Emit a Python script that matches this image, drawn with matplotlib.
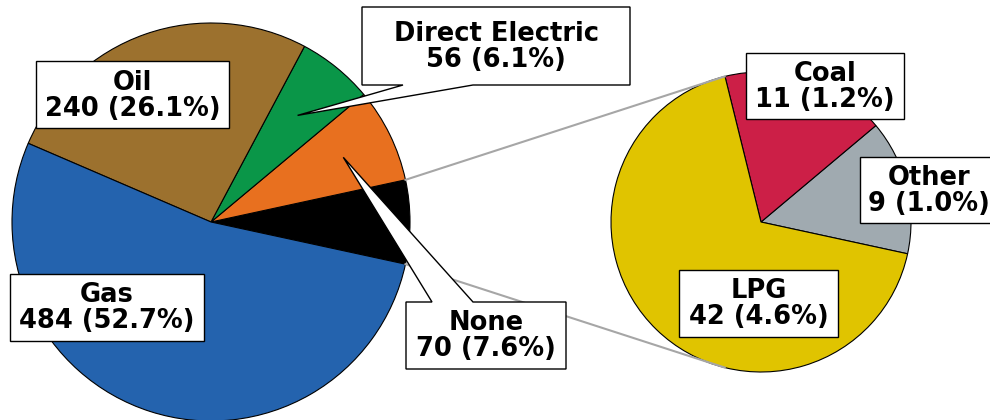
import numpy as np
import matplotlib
matplotlib.use('Agg')
import matplotlib.pyplot as plt
from matplotlib.patches import Polygon

# main pie: grouped "other" slice first, then counter-clockwise
main_labels = ['None', 'Direct Electric', 'Oil', 'Gas']
main_values = [70, 56, 240, 484]
main_pcts = ['7.6%', '6.1%', '26.1%', '52.7%']
main_colors = ['#E8701F', '#0A9648', '#9C712E', '#2463AE']

# secondary pie (breakdown of the black slice)
sub_labels = ['Other', 'Coal', 'LPG']
sub_values = [9, 11, 42]
sub_pcts = ['1.0%', '1.2%', '4.6%']
sub_colors = ['#A0AAB0', '#CC1F47', '#E0C400']

W, H = 990, 420
C1, R1 = (211, 198), 199
C2, R2 = (761, 198), 150
LINK_ANG = 104  # where connector meets the small pie (deg from +x, mirrored)


def img(x, y):
    # image pixel coords (y down) -> axes data coords (y up)
    return (x, H - y)


def main():
    fig = plt.figure(figsize=(W / 100, H / 100), dpi=100)
    ax = fig.add_axes([0, 0, 1, 1])

    other_total = sum(sub_values)
    total = other_total + sum(main_values)
    start = -180.0 * other_total / total

    wp = dict(edgecolor='black', linewidth=0.8)
    wedges1, _ = ax.pie([other_total] + main_values, colors=['black'] + main_colors,
                        startangle=start, center=C1, radius=R1, wedgeprops=wp)
    wedges2, _ = ax.pie(sub_values, colors=sub_colors, startangle=start,
                        center=C2, radius=R2, wedgeprops=wp)
    for w in list(wedges1) + list(wedges2):
        w.set_zorder(1)

    # connector lines between the black slice and the small pie
    half = np.radians(180.0 * other_total / total)
    la = np.radians(LINK_ANG)
    for s in (1, -1):
        x0 = C1[0] + R1 * np.cos(half)
        y0 = C1[1] + s * R1 * np.sin(half)
        x1 = C2[0] + R2 * np.cos(la)
        y1 = C2[1] + s * R2 * np.sin(la)
        ax.plot([x0, x1], [y0, y1], color='#A6A6A6', lw=1.5, zorder=2)

    def tip_of(wedge, frac=0.7):
        a = np.radians((wedge.theta1 + wedge.theta2) / 2)
        return (C1[0] + frac * R1 * np.cos(a), C1[1] + frac * R1 * np.sin(a))

    # label boxes (image coords: left, top, right, bottom)
    boxes = {
        'Oil': (36, 61, 229, 128),
        'Gas': (10, 274, 204, 341),
        'Direct Electric': (362, 7, 630, 85),
        'None': (406, 302, 566, 369),
        'Coal': (746, 53, 904, 119),
        'Other': (860, 157, 1000, 223),
        'LPG': (679, 270, 838, 337),
    }
    texts = {}
    for lab, v, p in zip(main_labels, main_values, main_pcts):
        texts[lab] = '%s\n%d (%s)' % (lab, v, p)
    for lab, v, p in zip(sub_labels, sub_values, sub_pcts):
        texts[lab] = '%s\n%d (%s)' % (lab, v, p)

    tips = {
        'Direct Electric': tip_of(wedges1[2], 0.69),
        'None': tip_of(wedges1[1], 0.74),
    }

    for lab, (l, t, r, b) in boxes.items():
        if lab == 'Direct Electric':
            pts = [img(l, t), img(r, t), img(r, b), img(473, b), tips[lab],
                   img(403, b), img(l, b)]
        elif lab == 'None':
            pts = [img(l, t), img(432, t), tips[lab], img(473, t), img(r, t),
                   img(r, b), img(l, b)]
        else:
            pts = [img(l, t), img(r, t), img(r, b), img(l, b)]
        ax.add_patch(Polygon(pts, closed=True, facecolor='white',
                             edgecolor='black', lw=1.0, zorder=3))
        cx, cy = img((l + r) / 2, (t + b) / 2 + 1)
        if lab == 'Other':
            cx = 929
        ax.text(cx, cy, texts[lab], ha='center', va='center', ma='center',
                fontsize=18.5, fontweight='bold', linespacing=1.0,
                color='black', zorder=4)

    ax.set_xlim(0, W)
    ax.set_ylim(0, H)
    ax.set_aspect('equal')
    ax.axis('off')
    fig.savefig('out.png', dpi=100, facecolor='white')


if __name__ == '__main__':
    main()
